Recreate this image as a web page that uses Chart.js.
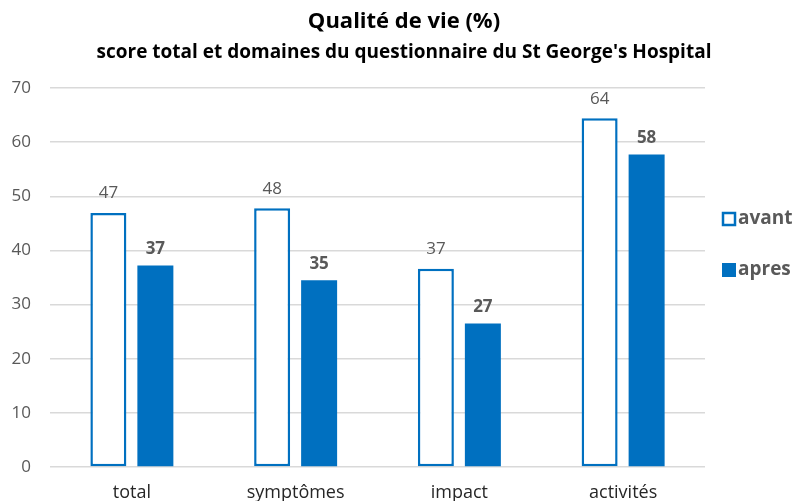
<!DOCTYPE html>
<html>
<head>
<meta charset="utf-8">
<script src="https://cdn.jsdelivr.net/npm/chart.js@4/dist/chart.umd.min.js"></script>
<style>
html,body{margin:0;padding:0;background:#fff;}
#wrap{width:800px;height:501px;}
</style>
</head>
<body>
<div id="wrap"><canvas id="c" width="800" height="501"></canvas></div>
<script>
const categories = ['total', 'symptômes', 'impact', 'activités'];
const avant = [46.9, 47.8, 36.6, 64.4];
const apres = [37.2, 34.5, 26.5, 57.7];
const seriesNames = ['avant', 'apres'];
const yTicks = [0, 10, 20, 30, 40, 50, 60, 70];
const titleText = 'Qualité de vie (%)';
const subtitleText = "score total et domaines du questionnaire du St George's Hospital";

const BLUE = '#0070C0';
const GRAY = '#595959';
const FONT = '"Open Sans", Lato, sans-serif';

const valueLabels = {
  id: 'valueLabels',
  afterDatasetsDraw(chart) {
    const ctx = chart.ctx;
    ctx.save();
    chart.data.datasets.forEach((ds, di) => {
      const meta = chart.getDatasetMeta(di);
      meta.data.forEach((el, i) => {
        ctx.fillStyle = GRAY;
        ctx.font = (di === 1 ? 'bold ' : '') + '17px ' + FONT;
        ctx.textAlign = 'center';
        ctx.textBaseline = 'bottom';
        ctx.fillText(String(Math.round(ds.data[i])), el.x, el.y - (di === 0 ? 11 : 8));
      });
    });
    ctx.restore();
  }
};

const headerText = {
  id: 'headerText',
  afterDraw(chart) {
    const ctx = chart.ctx;
    ctx.save();
    ctx.fillStyle = '#000';
    ctx.textAlign = 'center';
    ctx.textBaseline = 'middle';
    ctx.font = 'bold 22px ' + FONT;
    ctx.fillText(titleText, 404, 22);
    ctx.font = 'bold 19px ' + FONT;
    ctx.fillText(subtitleText, 404, 53);
    ctx.restore();
  }
};

const customLegend = {
  id: 'customLegend',
  afterDraw(chart) {
    const ctx = chart.ctx;
    ctx.save();
    const x = 723, ys = [219, 270];
    chart.data.datasets.forEach((ds, i) => {
      const y = ys[i];
      if (i === 0) {
        ctx.fillStyle = '#fff';
        ctx.fillRect(x, y - 6, 12, 12);
        ctx.strokeStyle = ds.borderColor;
        ctx.lineWidth = 2.5;
        ctx.strokeRect(x, y - 6, 12, 12);
      } else {
        ctx.fillStyle = ds.backgroundColor;
        ctx.fillRect(x - 1, y - 7, 14, 14);
      }
      ctx.fillStyle = GRAY;
      ctx.font = 'bold 19px ' + FONT;
      ctx.textAlign = 'left';
      ctx.textBaseline = 'middle';
      ctx.fillText(ds.label, x + 15, y);
    });
    ctx.restore();
  }
};

new Chart(document.getElementById('c'), {
  type: 'bar',
  data: {
    labels: categories,
    datasets: [
      { label: seriesNames[0], data: avant, backgroundColor: '#ffffff', borderColor: BLUE, borderWidth: 2.5, borderSkipped: false },
      { label: seriesNames[1], data: apres, backgroundColor: BLUE, borderColor: BLUE, borderWidth: 0 }
    ]
  },
  options: {
    responsive: false,
    animation: false,
    devicePixelRatio: 1,
    layout: { padding: { left: 0, right: 95, top: 88, bottom: 0 } },
    datasets: { bar: { categoryPercentage: 0.574, barPercentage: 0.766 } },
    plugins: {
      legend: { display: false },
      tooltip: { enabled: false },
      title: { display: false },
      subtitle: { display: false }
    },
    scales: {
      x: {
        grid: { display: false, drawTicks: false },
        border: { display: false },
        afterFit(axis) { axis.height = 34; },
        ticks: { color: '#262626', font: { family: FONT, size: 18 }, padding: 15 }
      },
      y: {
        min: 0, max: 70,
        afterBuildTicks(axis) { axis.ticks = yTicks.map(v => ({ value: v })); },
        afterFit(axis) { axis.width = 50; },
        grid: { color: '#d9d9d9', lineWidth: 1.5, drawTicks: false },
        border: { display: false },
        ticks: { color: GRAY, font: { family: FONT, size: 17 }, padding: 19 }
      }
    }
  },
  plugins: [valueLabels, headerText, customLegend]
});
</script>
</body>
</html>
